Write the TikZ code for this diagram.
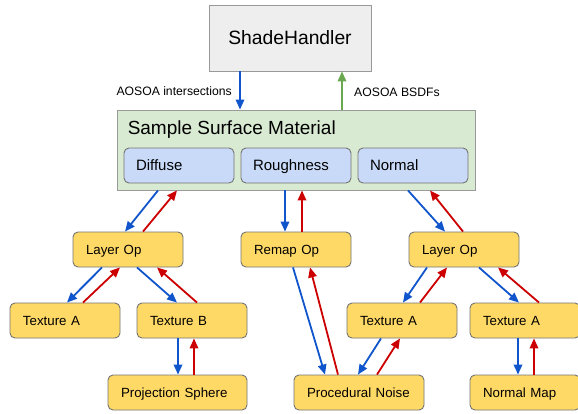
\documentclass[tikz,border=0pt]{standalone}
\usepackage{fontspec}
\setmainfont{Liberation Sans}
\usetikzlibrary{arrows.meta, positioning, calc}

\definecolor{handlergray}{HTML}{EEEEEE}
\definecolor{matgreen}{HTML}{D9EAD3}
\definecolor{slotblue}{HTML}{C9DAF8}
\definecolor{opyellow}{HTML}{FFD966}
\definecolor{callblue}{HTML}{1155CC}
\definecolor{retred}{HTML}{CC0000}
\definecolor{bsdfgreen}{HTML}{6AA84F}

\tikzset{
    panel/.style={draw=black!40, line width=0.9pt, inner sep=0pt},
    slot/.style={draw=black!55, line width=0.9pt, fill=slotblue, rounded corners=5pt,
        minimum width=110pt, minimum height=35pt, text width=86pt, inner xsep=12pt,
        text height=10.7pt, text depth=0pt,
        align=left, font=\fontsize{15}{18}\selectfont},
    op/.style={draw=black!55, line width=0.9pt, fill=opyellow, rounded corners=5pt,
        minimum height=35pt, inner xsep=13pt, align=left,
        text height=9.5pt, text depth=0pt,
        font=\fontsize{13.3}{16}\selectfont},
    opbox/.style={op, minimum width=#1, text width=#1-26pt},
    opbox/.default=110pt,
    call/.style={draw=callblue, line width=1.8pt, -{Triangle[length=10pt,width=8.5pt]}},
    ret/.style={draw=retred, line width=1.8pt, -{Triangle[length=10pt,width=8.5pt]}},
    bsdf/.style={draw=bsdfgreen, line width=1.8pt, -{Triangle[length=10pt,width=8.5pt]}},
    note/.style={font=\fontsize{12.2}{14}\selectfont}
}

\begin{document}
\begin{tikzpicture}[x=1pt, y=-1pt]
    \useasboundingbox (0,0) rectangle (578,413);
    % handler and material
    \node[panel, fill=handlergray, minimum width=162pt, minimum height=66pt,
        font=\fontsize{19.3}{22}\selectfont] (shade) at (290,38) {ShadeHandler};
    \node[panel, fill=matgreen, minimum width=358pt, minimum height=80pt] (ssm) at (296,150) {};
    \node[anchor=north west, inner sep=0pt, font=\fontsize{19}{22}\selectfont]
        (ssmtitle) at ([xshift=11pt, yshift=-11pt]ssm.north west) {Sample Surface Material};
    \node[slot] (diffuse) at (179,165.5) {Diffuse};
    \node[slot] (rough) at (296,165.5) {Roughness};
    \node[slot] (normal) at (413,165.5) {Normal};
    % op graph
    \node[opbox] (layerL) at (128,249.5) {Layer Op};
    \node[opbox] (remap) at (296,249.5) {Remap Op};
    \node[opbox] (layerR) at (464,249.5) {Layer Op};
    \node[opbox] (texA1) at (65,320.5) {Texture A};
    \node[opbox] (texB) at (192,320.5) {Texture B};
    \node[opbox] (texA2) at (402,320.5) {Texture A};
    \node[opbox] (texA3) at (525,320.5) {Texture A};
    \node[opbox=139pt] (proj) at (177.5,392.5) {Projection Sphere};
    \node[opbox=130pt] (noise) at (359,392.5) {Procedural Noise};
    \node[opbox] (nmap) at (525,392.5) {Normal Map};

    % handler <-> material
    \draw[call] ([xshift=-50pt]shade.south) -- ([xshift=-50pt]shade.south |- ssm.north)
        node[note, midway, left=4pt, yshift=-1pt] (lblin) {AOSOA intersections};
    \draw[bsdf] ([xshift=52pt]shade.south |- ssm.north) -- ([xshift=52pt]shade.south)
        node[note, midway, right=8pt, yshift=-2pt] (lblout) {AOSOA BSDFs};

    % material slots <-> ops
    \draw[call] ([xshift=-21pt]diffuse.south |- ssm.south) -- ([xshift=-3pt]layerL.north);
    \draw[ret] ([xshift=15pt]layerL.north) -- ([xshift=-2pt]diffuse.south |- ssm.south);
    \draw[call] ([xshift=-11pt]rough.south |- ssm.south) -- ([xshift=-11pt]remap.north);
    \draw[ret] ([xshift=6pt]remap.north) -- ([xshift=6pt]rough.south |- ssm.south);
    \draw[call] ([xshift=-5pt]normal.south |- ssm.south) -- ([xshift=-19pt]layerR.north);
    \draw[ret] ([xshift=-1pt]layerR.north) -- ([xshift=17pt]normal.south |- ssm.south);

    % left layer
    \draw[call] ([xshift=-26pt]layerL.south) -- ([xshift=2pt]texA1.north);
    \draw[ret] ([xshift=18pt]texA1.north) -- ([xshift=-8pt]layerL.south);
    \draw[call] ([xshift=9pt]layerL.south) -- ([xshift=-15pt]texB.north);
    \draw[ret] ([xshift=5pt]texB.north) -- ([xshift=29pt]layerL.south);
    \draw[call] ([xshift=-14pt]texB.south) -- ([xshift=-14pt]texB.south |- proj.north);
    \draw[ret] ([xshift=2pt]texB.south |- proj.north) -- ([xshift=2pt]texB.south);

    % remap
    \draw[call] ([xshift=-3pt]remap.south) -- ([xshift=-34pt]noise.north);
    \draw[ret] ([xshift=-21pt]noise.north) -- ([xshift=14pt]remap.south);

    % right layer
    \draw[call] ([xshift=-37pt]layerR.south) -- ([xshift=1pt]texA2.north);
    \draw[ret] ([xshift=18pt]texA2.north) -- ([xshift=-17pt]layerR.south);
    \draw[call] ([xshift=15pt]layerR.south) -- ([xshift=-6pt]texA3.north);
    \draw[ret] ([xshift=14pt]texA3.north) -- ([xshift=34pt]layerR.south);
    \draw[call] ([xshift=-21pt]texA2.south) -- ([xshift=-1pt]noise.north);
    \draw[ret] ([xshift=18pt]noise.north) -- ([xshift=-2pt]texA2.south);
    \draw[call] ([xshift=-7pt]texA3.south) -- ([xshift=-7pt]texA3.south |- nmap.north);
    \draw[ret] ([xshift=9pt]texA3.south |- nmap.north) -- ([xshift=9pt]texA3.south);
\end{tikzpicture}
\end{document}
